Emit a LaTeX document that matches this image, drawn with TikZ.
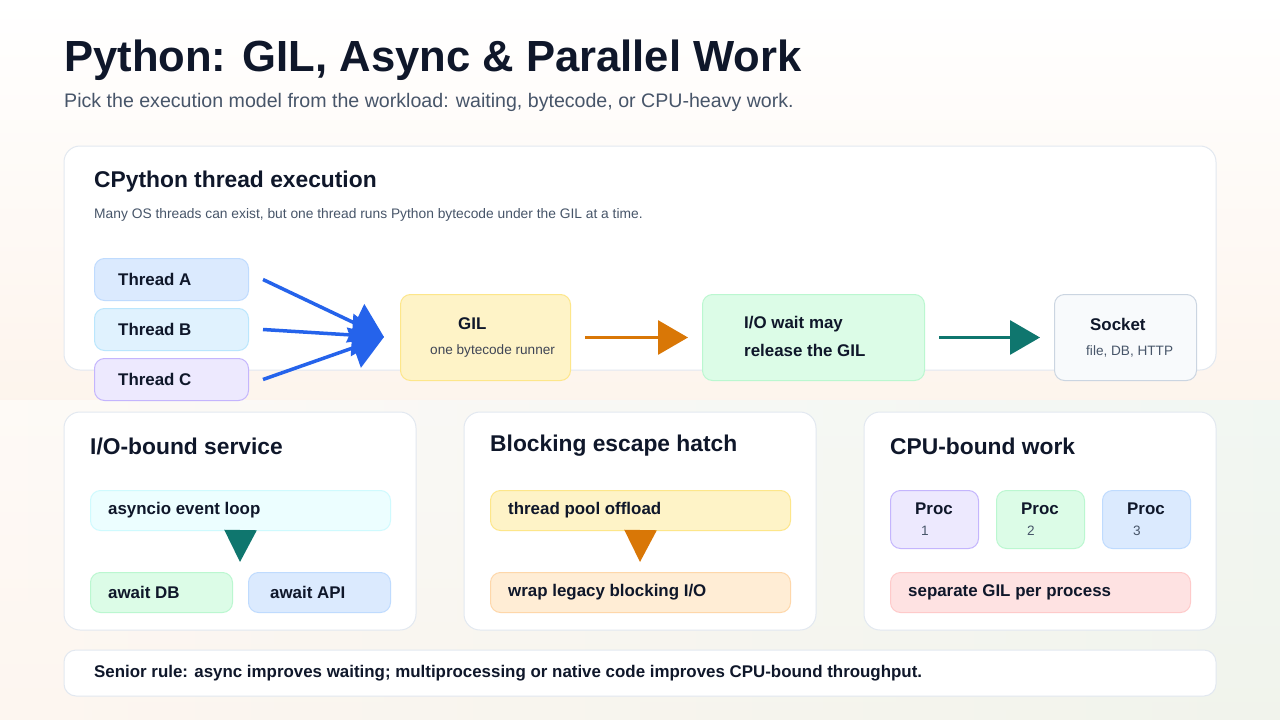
\documentclass[tikz,border=0pt]{standalone}
\usepackage{fontspec}
\setmainfont{Liberation Sans}
\usetikzlibrary{arrows.meta}
\definecolor{ink}{HTML}{0F172A}
\definecolor{sub}{HTML}{475569}
\definecolor{bord}{HTML}{E2E8F0}
\definecolor{cblue}{HTML}{DBEAFE}\definecolor{bblue}{HTML}{BFDBFE}
\definecolor{csky}{HTML}{E0F2FE}\definecolor{bsky}{HTML}{BAE6FD}
\definecolor{cvio}{HTML}{EDE9FE}\definecolor{bvio}{HTML}{C4B5FD}
\definecolor{cyel}{HTML}{FEF3C7}\definecolor{byel}{HTML}{FDE68A}
\definecolor{cgrn}{HTML}{DCFCE7}\definecolor{bgrn}{HTML}{BBF7D0}
\definecolor{cgry}{HTML}{F8FAFC}\definecolor{bgry}{HTML}{CBD5E1}
\definecolor{ccyan}{HTML}{ECFEFF}\definecolor{bcyan}{HTML}{CFFAFE}
\definecolor{corg}{HTML}{FFEDD5}\definecolor{borg}{HTML}{FED7AA}
\definecolor{cred}{HTML}{FEE2E2}\definecolor{bred}{HTML}{FECACA}
\definecolor{ablue}{HTML}{2563EB}
\definecolor{aorg}{HTML}{D97706}
\definecolor{ateal}{HTML}{0F766E}
\begin{document}
\begin{tikzpicture}[x=1pt,y=-1pt,
  panel/.style={draw=bord,fill=white,rounded corners=16pt,line width=1pt},
  box/.style={rounded corners=10pt,line width=1pt},
  lbl/.style={anchor=west,inner sep=0pt,font=\fontsize{16.9}{19}\selectfont\bfseries,text=ink},
  small/.style={anchor=west,inner sep=0pt,font=\fontsize{13.6}{15}\selectfont,text=sub},
  ptitle/.style={anchor=west,inner sep=0pt,font=\fontsize{22.8}{26}\selectfont\bfseries,text=ink},
  arr/.style={line width=3.5pt,-{Triangle[length=32pt,width=42pt]}},
  darr/.style={line width=3pt,-{Triangle[length=30pt,width=34pt]}}]
\useasboundingbox (0,0) rectangle (1280,720);
\shade[top color=white,bottom color={rgb,255:red,252;green,236;blue,222}] (0,0) rectangle (1280,720);
\shade[left color=white,right color={rgb,255:red,232;green,250;blue,248},opacity=0.55] (0,400) rectangle (1280,720);
% title
\node[anchor=west,inner sep=0pt,font=\fontsize{43.6}{48}\selectfont\bfseries,text=ink] (title) at (64,60) {Python: GIL, Async \& Parallel Work};
\node[anchor=west,inner sep=0pt,font=\fontsize{19.6}{22}\selectfont,text=sub] (subt) at (64,102) {Pick the execution model from the workload: waiting, bytecode, or CPU-heavy work.};
% top panel
\draw[panel] (64,146) rectangle (1216,370);
\node[ptitle] (t1) at (94,182) {CPython thread execution};
\node[small,font=\fontsize{13.8}{15}\selectfont] (d1) at (94,215) {Many OS threads can exist, but one thread runs Python bytecode under the GIL at a time.};
\node[box,draw=bblue,fill=cblue,minimum width=154pt,minimum height=42pt,anchor=north west] (ta) at (94,258) {};
\node[box,draw=bsky,fill=csky,minimum width=154pt,minimum height=42pt,anchor=north west] (tb) at (94,308) {};
\node[box,draw=bvio,fill=cvio,minimum width=154pt,minimum height=42pt,anchor=north west] (tc) at (94,358) {};
\node[lbl] at (118,279) {Thread A};
\node[lbl] at (118,329) {Thread B};
\node[lbl] at (118,379) {Thread C};
\node[box,draw=byel,fill=cyel,minimum width=170pt,minimum height=86pt,anchor=north west] (gil) at (400,294) {};
\node[lbl] at (458,324) {GIL};
\node[small,text=ink!80] at (430,351) {one bytecode runner};
\node[box,draw=bgrn,fill=cgrn,minimum width=222pt,minimum height=86pt,anchor=north west] (io) at (702,294) {};
\node[lbl] at (744,324) {I/O wait may};
\node[lbl] at (744,350) {release the GIL};
\node[box,draw=bgry,fill=cgry,minimum width=142pt,minimum height=86pt,anchor=north west] (sock) at (1054,294) {};
\node[lbl] at (1090,324) {Socket};
\node[small] at (1086,351) {file, DB, HTTP};
\coordinate (gin) at (384,337);
\draw[arr,ablue] ([xshift=14pt]ta.east) -- (gin);
\draw[arr,ablue] ([xshift=14pt]tb.east) -- (gin);
\draw[arr,ablue] ([xshift=14pt]tc.east) -- (gin);
\draw[darr,aorg] ([xshift=14pt]gil.east) -- ([xshift=-14pt]io.west);
\draw[darr,ateal] ([xshift=14pt]io.east) -- ([xshift=-14pt]sock.west);
% bottom panels
\draw[panel] (64,412) rectangle (416,630);
\draw[panel] (464,412) rectangle (816,630);
\draw[panel] (864,412) rectangle (1216,630);
\node[ptitle] at (90,446) {I/O-bound service};
\node[ptitle] at (490,446) {Blocking escape hatch};
\node[ptitle] at (890,446) {CPU-bound work};
% panel 1
\node[box,draw=bcyan,fill=ccyan,minimum width=300pt,minimum height=40pt,anchor=north west] (loop) at (90,490) {};
\node[lbl] at (108,510) {asyncio event loop};
\node[box,draw=bgrn,fill=cgrn,minimum width=142pt,minimum height=40pt,anchor=north west] (adb) at (90,572) {};
\node[lbl] at (108,592) {await DB};
\node[box,draw=bblue,fill=cblue,minimum width=142pt,minimum height=40pt,anchor=north west] (aapi) at (248,572) {};
\node[lbl] at (270,592) {await API};
\coordinate (l1) at (240,562);
\draw[line width=2.5pt,ateal,-{Triangle[length=32pt,width=32pt]}] (loop.south) -- (l1);
% panel 2
\node[box,draw=byel,fill=cyel,minimum width=300pt,minimum height=40pt,anchor=north west] (pool) at (490,490) {};
\node[lbl] at (508,510) {thread pool offload};
\node[box,draw=borg,fill=corg,minimum width=300pt,minimum height=40pt,anchor=north west] (wrap) at (490,572) {};
\node[lbl] at (508,592) {wrap legacy blocking I/O};
\coordinate (l2) at (640,562);
\draw[line width=2.5pt,aorg,-{Triangle[length=32pt,width=32pt]}] (pool.south) -- (l2);
% panel 3
\node[box,draw=bvio,fill=cvio,minimum width=88pt,minimum height=58pt,anchor=north west] (p1) at (890,490) {};
\node[box,draw=bgrn,fill=cgrn,minimum width=88pt,minimum height=58pt,anchor=north west] (p2) at (996,490) {};
\node[box,draw=bblue,fill=cblue,minimum width=88pt,minimum height=58pt,anchor=north west] (p3) at (1102,490) {};
\node[lbl] at (915,509) {Proc};
\node[small] at (921,531) {1};
\node[lbl] at (1021,509) {Proc};
\node[small] at (1027,531) {2};
\node[lbl] at (1127,509) {Proc};
\node[small] at (1133,531) {3};
\node[box,draw=bred,fill=cred,minimum width=300pt,minimum height=40pt,anchor=north west] (sep) at (890,572) {};
\node[lbl] at (908,592) {separate GIL per process};
% footer
\draw[panel,rounded corners=12pt] (64,650) rectangle (1216,696);
\node[lbl] (foot) at (94,673) {Senior rule: async improves waiting; multiprocessing or native code improves CPU-bound throughput.};
\end{tikzpicture}
\end{document}
